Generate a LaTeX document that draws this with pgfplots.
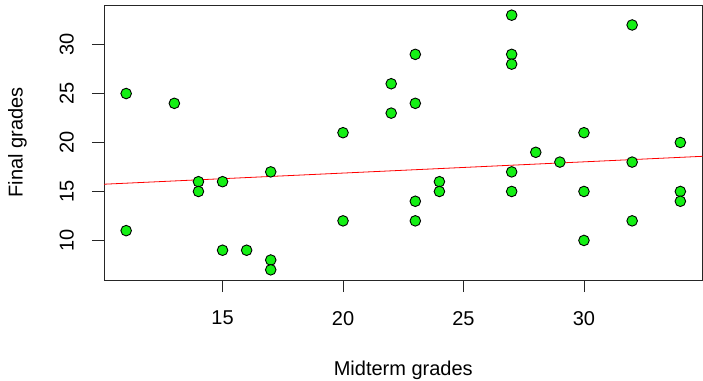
\documentclass[border=0pt]{standalone}
\usepackage{pgfplots}
\pgfplotsset{compat=1.18}
\usepackage{fontspec}
\setmainfont{Liberation Sans}
\definecolor{rgreen}{RGB}{20,240,20}
\begin{document}
\fontsize{20}{24}\selectfont
\begin{tikzpicture}
\useasboundingbox (-104pt,-100pt) rectangle (599pt,280pt);
\begin{axis}[
  at={(0,0)}, anchor=south west,
  scale only axis, width=598.5pt, height=275pt,
  xmin=10.08, xmax=34.92, ymin=5.96, ymax=34.04,
  xtick={15,20,25,30}, ytick={10,15,20,25,30},
  xtick pos=bottom, ytick pos=left,
  tick align=outside, major tick length=12pt,
  axis line style={line width=0.9pt, black!85},
  tick style={line width=0.9pt, black!85},
  /pgf/number format/assume math mode=true,
  ticklabel style={font=\fontsize{20}{24}\selectfont, inner sep=0pt},
  xticklabel style={anchor=north},
  xticklabel shift=19pt,
  yticklabel style={rotate=90, anchor=south},
  yticklabel shift=18pt,
  xlabel={Midterm grades}, ylabel={Final grades},
  label style={font=\fontsize{20}{24}\selectfont},
  xlabel style={at={(axis description cs:0.5,-0.327)}, anchor=center},
  ylabel style={at={(axis description cs:-0.1444,0.5)}, anchor=center},
  clip=true,
]
\addplot[red, line width=0.8pt] coordinates {(10.08,15.74) (34.92,18.59)};
\addplot[only marks, mark=*, mark size=5.3pt, mark options={fill=rgreen, draw=black, line width=0.9pt}] coordinates {
(11,25)(11,11)(13,24)(14,16)(14,15)(15,16)(15,9)(16,9)(17,17)(17,8)(17,7)
(20,21)(20,12)(22,26)(22,23)(23,29)(23,24)(23,14)(23,12)(24,16)(24,15)
(27,33)(27,29)(27,28)(27,17)(27,15)(28,19)(29,18)(30,21)(30,15)(30,10)
(32,32)(32,18)(32,12)(34,20)(34,15)(34,14)};
\end{axis}
\end{tikzpicture}
\end{document}
